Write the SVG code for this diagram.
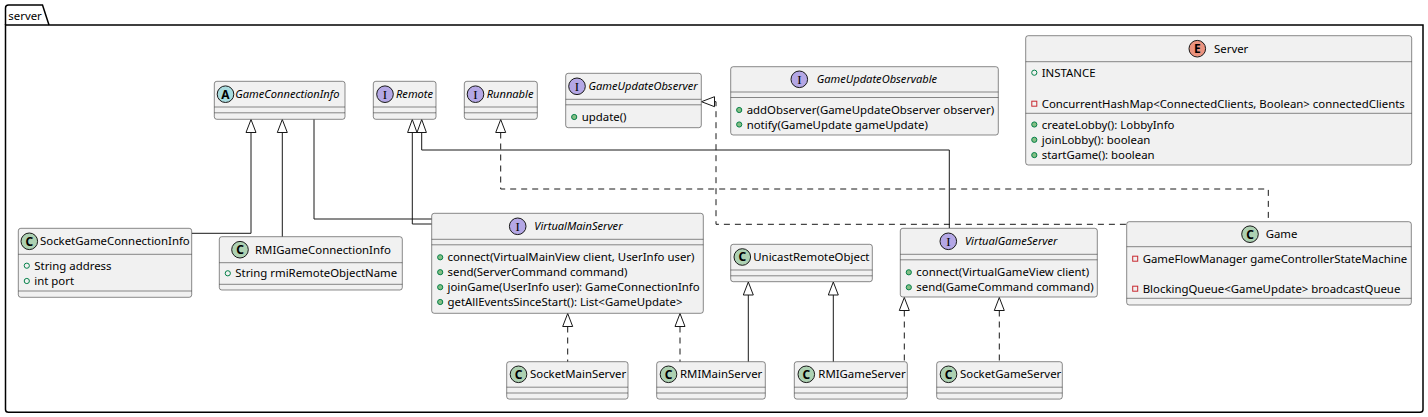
<svg xmlns="http://www.w3.org/2000/svg" width="1428" height="417" viewBox="0 0 1428 417">
<style>
.bx{fill:#F1F1F1;stroke:#181818;stroke-width:0.5}
.sep{stroke:#181818;stroke-width:0.5}
.t{font-family:"Noto Sans","DejaVu Sans",sans-serif;font-size:11.4px;fill:#000}
.it{font-style:italic;font-size:11.1px}
.ic{stroke:#181818;stroke-width:1}
.cC{fill:#ADD1B2}.cA{fill:#A9DCDF}.cI{fill:#B4A7E5}.cE{fill:#EB937F}
.lt{font-family:"Noto Sans",sans-serif;font-size:12px;font-weight:bold;fill:#000;text-anchor:middle}
.li{font-family:"Liberation Serif",serif;font-size:13px;fill:#000;text-anchor:middle}
.pm{fill:#84BE84;stroke:#038048;stroke-width:1}
.pf{fill:none;stroke:#038048;stroke-width:1}
.pr{fill:none;stroke:#C82930;stroke-width:1}
.ln{fill:none;stroke:#181818;stroke-width:1}
.dl{fill:none;stroke:#181818;stroke-width:1;stroke-dasharray:6,5}
.ar{fill:#FFFFFF;stroke:#181818;stroke-width:1}
</style>

<g id="pkg-server">
<path d="M5.5 25 L5.5 8 Q5.5 5 8.5 5 L42.5 5 L49 25" fill="none" stroke="#000" stroke-width="1.5"/>
<path d="M5.5 25 L1423 25 L1423 409.5 Q1423 412.3 1420 412.3 L8.5 412.3 Q5.5 412.3 5.5 409.5 Z" fill="none" stroke="#000" stroke-width="1.5"/>
<text class="t" x="8.3" y="19.5">server</text>
</g>

<g id="connectors">
<path class="ln" d="M251 132.5 L251 233.3 L191.7 233.3"/>
<polygon class="ar" points="251,119.5 246,132.5 256,132.5"/>
<path class="ln" d="M282.3 132.5 L282.3 236.7"/>
<polygon class="ar" points="282.3,119.5 277.3,132.5 287.3,132.5"/>
<path class="ln" d="M314 119.3 L314 219 L431.7 219"/>
<path class="ln" d="M412.3 132.5 L412.3 224 L431.7 224"/>
<polygon class="ar" points="412.3,119.5 407.6,132.5 417,132.5"/>
<path class="ln" d="M421.7 132.5 L421.7 150 L949.3 150 L949.3 228.3"/>
<polygon class="ar" points="421.7,119.5 417,132.5 426.4,132.5"/>
<path class="dl" d="M500.7 132.5 L500.7 189 L1268.3 189 L1268.3 221.7"/>
<polygon class="ar" points="500.7,119.5 495.7,132.5 505.7,132.5"/>
<path class="dl" d="M714.5 101.7 L716 101.7 L716 224.3 L1126.7 224.3"/>
<polygon class="ar" points="701.5,101.7 714.5,96.7 714.5,106.7"/>
<path class="dl" d="M567.7 326.5 L567.7 361.7"/>
<polygon class="ar" points="567.7,313.5 562.7,326.5 572.7,326.5"/>
<path class="dl" d="M680 326.5 L680 361.7"/>
<polygon class="ar" points="680,313.5 675,326.5 685,326.5"/>
<path class="ln" d="M748.3 295 L748.3 361.7"/>
<polygon class="ar" points="748.3,282 743.3,295 753.3,295"/>
<path class="ln" d="M833.3 295 L833.3 361.7"/>
<polygon class="ar" points="833.3,282 828.3,295 838.3,295"/>
<path class="dl" d="M904.3 310.5 L904.3 361.7"/>
<polygon class="ar" points="904.3,297.5 899.3,310.5 909.3,310.5"/>
<path class="dl" d="M999.3 310.5 L999.3 361.7"/>
<polygon class="ar" points="999.3,297.5 994.3,310.5 1004.3,310.5"/>
</g>

<g id="GameConnectionInfo">
<rect class="bx" x="214.3" y="81.3" width="130.7" height="38" rx="2.5"/>
<line class="sep" x1="214.3" y1="107" x2="345" y2="107"/>
<line class="sep" x1="214.3" y1="112.8" x2="345" y2="112.8"/>
<circle class="ic cA" cx="225.5" cy="94.2" r="8.3"/>
<text class="lt" x="225.5" y="98.5">A</text>
<text class="t it" x="235.3" y="98.3">GameConnectionInfo</text>
</g>

<g id="Remote">
<rect class="bx" x="373.3" y="81.3" width="62.7" height="38" rx="2.5"/>
<line class="sep" x1="373.3" y1="107" x2="436" y2="107"/>
<line class="sep" x1="373.3" y1="112.8" x2="436" y2="112.8"/>
<circle class="ic cI" cx="385" cy="94.2" r="8.3"/>
<text class="li" x="385" y="98.8">I</text>
<text class="t it" x="396" y="98.3">Remote</text>
</g>

<g id="Runnable">
<rect class="bx" x="464.3" y="81.3" width="73" height="38" rx="2.5"/>
<line class="sep" x1="464.3" y1="107" x2="537.3" y2="107"/>
<line class="sep" x1="464.3" y1="112.8" x2="537.3" y2="112.8"/>
<circle class="ic cI" cx="475.5" cy="94.2" r="8.3"/>
<text class="li" x="475.5" y="98.8">I</text>
<text class="t it" x="486.7" y="98.3">Runnable</text>
</g>

<g id="GameUpdateObserver">
<rect class="bx" x="565.7" y="73.3" width="135.6" height="54.4" rx="2.5"/>
<line class="sep" x1="565.7" y1="99.3" x2="701.3" y2="99.3"/>
<line class="sep" x1="565.7" y1="104.8" x2="701.3" y2="104.8"/>
<circle class="ic cI" cx="577" cy="86.3" r="8.3"/>
<text class="li" x="577" y="90.9">I</text>
<text class="t it" x="588.5" y="90.4">GameUpdateObserver</text>
<circle class="pm" cx="574.2" cy="117" r="2.6"/>
<text class="t" x="581.7" y="121">update()</text>
</g>

<g id="GameUpdateObservable">
<rect class="bx" x="730.7" y="66.7" width="267.6" height="68.3" rx="2.5"/>
<line class="sep" x1="730.7" y1="92" x2="998.3" y2="92"/>
<line class="sep" x1="730.7" y1="97.5" x2="998.3" y2="97.5"/>
<circle class="ic cI" cx="799.3" cy="79.3" r="8.3"/>
<text class="li" x="799.3" y="83.9">I</text>
<text class="t it" x="816.7" y="83.4">GameUpdateObservable</text>
<circle class="pm" cx="739.2" cy="110" r="2.6"/>
<text class="t" x="746.7" y="114">addObserver(GameUpdateObserver observer)</text>
<circle class="pm" cx="739.2" cy="124.5" r="2.6"/>
<text class="t" x="746.7" y="128.5">notify(GameUpdate gameUpdate)</text>
</g>

<g id="Server">
<rect class="bx" x="1025.7" y="35.7" width="386" height="129.3" rx="2.5"/>
<line class="sep" x1="1025.7" y1="61.7" x2="1411.7" y2="61.7"/>
<line class="sep" x1="1025.7" y1="113.3" x2="1411.7" y2="113.3"/>
<circle class="ic cE" cx="1197.3" cy="48.7" r="8.3"/>
<text class="lt" x="1197.3" y="53">E</text>
<text class="t" x="1214" y="52.8">Server</text>
<circle class="pf" cx="1034.3" cy="72.7" r="2.6"/>
<text class="t" x="1041.7" y="76.7">INSTANCE</text>
<rect class="pr" x="1031.8" y="101.2" width="5" height="5"/>
<text class="t" x="1041.7" y="107.7">ConcurrentHashMap&lt;ConnectedClients, Boolean&gt; connectedClients</text>
<circle class="pm" cx="1034.3" cy="124.5" r="2.6"/>
<text class="t" x="1041.7" y="128.5">createLobby(): LobbyInfo</text>
<circle class="pm" cx="1034.3" cy="139.8" r="2.6"/>
<text class="t" x="1041.7" y="143.8">joinLobby(): boolean</text>
<circle class="pm" cx="1034.3" cy="155.1" r="2.6"/>
<text class="t" x="1041.7" y="159.1">startGame(): boolean</text>
</g>

<g id="SocketGameConnectionInfo">
<rect class="bx" x="18.3" y="228.3" width="173.4" height="69" rx="2.5"/>
<line class="sep" x1="18.3" y1="254.3" x2="191.7" y2="254.3"/>
<line class="sep" x1="18.3" y1="291" x2="191.7" y2="291"/>
<circle class="ic cC" cx="29.3" cy="241.3" r="8.3"/>
<text class="lt" x="29.3" y="245.6">C</text>
<text class="t" x="40" y="245.4">SocketGameConnectionInfo</text>
<circle class="pf" cx="26.8" cy="265.7" r="2.6"/>
<text class="t" x="34.3" y="269.7">String address</text>
<circle class="pf" cx="26.8" cy="281" r="2.6"/>
<text class="t" x="34.3" y="285">int port</text>
</g>

<g id="RMIGameConnectionInfo">
<rect class="bx" x="219.3" y="236.7" width="183" height="53.3" rx="2.5"/>
<line class="sep" x1="219.3" y1="262.7" x2="402.3" y2="262.7"/>
<line class="sep" x1="219.3" y1="284.3" x2="402.3" y2="284.3"/>
<circle class="ic cC" cx="240" cy="249.7" r="8.3"/>
<text class="lt" x="240" y="254">C</text>
<text class="t" x="255" y="253.8">RMIGameConnectionInfo</text>
<circle class="pf" cx="227.8" cy="273.3" r="2.6"/>
<text class="t" x="235.3" y="277.3">String rmiRemoteObjectName</text>
</g>

<g id="VirtualMainServer">
<rect class="bx" x="431.7" y="213.3" width="271.6" height="100" rx="2.5"/>
<line class="sep" x1="431.7" y1="239.3" x2="703.3" y2="239.3"/>
<line class="sep" x1="431.7" y1="244.8" x2="703.3" y2="244.8"/>
<circle class="ic cI" cx="517.7" cy="226.3" r="8.3"/>
<text class="li" x="517.7" y="230.9">I</text>
<text class="t it" x="534.3" y="230.4">VirtualMainServer</text>
<circle class="pm" cx="440.2" cy="257.3" r="2.6"/>
<text class="t" x="447.5" y="261.3">connect(VirtualMainView client, UserInfo user)</text>
<circle class="pm" cx="440.2" cy="272.2" r="2.6"/>
<text class="t" x="447.5" y="276.2">send(ServerCommand command)</text>
<circle class="pm" cx="440.2" cy="287.2" r="2.6"/>
<text class="t" x="447.5" y="291.2">joinGame(UserInfo user): GameConnectionInfo</text>
<circle class="pm" cx="440.2" cy="302" r="2.6"/>
<text class="t" x="447.5" y="306">getAllEventsSinceStart(): List&lt;GameUpdate&gt;</text>
</g>

<g id="UnicastRemoteObject">
<rect class="bx" x="730.7" y="244.3" width="141.6" height="37.4" rx="2.5"/>
<line class="sep" x1="730.7" y1="270" x2="872.3" y2="270"/>
<line class="sep" x1="730.7" y1="275.8" x2="872.3" y2="275.8"/>
<circle class="ic cC" cx="742.3" cy="257" r="8.3"/>
<text class="lt" x="742.3" y="261.3">C</text>
<text class="t" x="753.3" y="261.1">UnicastRemoteObject</text>
</g>

<g id="VirtualGameServer">
<rect class="bx" x="900.3" y="228.3" width="197" height="68.7" rx="2.5"/>
<line class="sep" x1="900.3" y1="254.3" x2="1097.3" y2="254.3"/>
<line class="sep" x1="900.3" y1="259.8" x2="1097.3" y2="259.8"/>
<circle class="ic cI" cx="948.3" cy="241.3" r="8.3"/>
<text class="li" x="948.3" y="245.9">I</text>
<text class="t it" x="965" y="245.4">VirtualGameServer</text>
<circle class="pm" cx="908.8" cy="272.3" r="2.6"/>
<text class="t" x="916.3" y="276.3">connect(VirtualGameView client)</text>
<circle class="pm" cx="908.8" cy="287.3" r="2.6"/>
<text class="t" x="916.3" y="291.3">send(GameCommand command)</text>
</g>

<g id="Game">
<rect class="bx" x="1126.7" y="221.7" width="284.6" height="83.3" rx="2.5"/>
<line class="sep" x1="1126.7" y1="246.7" x2="1411.3" y2="246.7"/>
<line class="sep" x1="1126.7" y1="298.3" x2="1411.3" y2="298.3"/>
<circle class="ic cC" cx="1250" cy="234.2" r="8.3"/>
<text class="lt" x="1250" y="238.5">C</text>
<text class="t" x="1265.7" y="238.3">Game</text>
<rect class="pr" x="1132.7" y="256.2" width="5" height="5"/>
<text class="t" x="1142.7" y="262.7">GameFlowManager gameControllerStateMachine</text>
<rect class="pr" x="1132.7" y="286.2" width="5" height="5"/>
<text class="t" x="1142.7" y="292.7">BlockingQueue&lt;GameUpdate&gt; broadcastQueue</text>
</g>

<g id="SocketMainServer">
<rect class="bx" x="506.7" y="361.7" width="121.3" height="37.4" rx="2.5"/>
<line class="sep" x1="506.7" y1="387.2" x2="628" y2="387.2"/>
<line class="sep" x1="506.7" y1="393" x2="628" y2="393"/>
<circle class="ic cC" cx="518.5" cy="374.3" r="8.3"/>
<text class="lt" x="518.5" y="378.6">C</text>
<text class="t" x="530" y="378.4">SocketMainServer</text>
</g>

<g id="RMIMainServer">
<rect class="bx" x="656.7" y="361.7" width="108.6" height="37.4" rx="2.5"/>
<line class="sep" x1="656.7" y1="387.2" x2="765.3" y2="387.2"/>
<line class="sep" x1="656.7" y1="393" x2="765.3" y2="393"/>
<circle class="ic cC" cx="668.5" cy="374.3" r="8.3"/>
<text class="lt" x="668.5" y="378.6">C</text>
<text class="t" x="680" y="378.4">RMIMainServer</text>
</g>

<g id="RMIGameServer">
<rect class="bx" x="794.3" y="361.7" width="113" height="37.4" rx="2.5"/>
<line class="sep" x1="794.3" y1="387.2" x2="907.3" y2="387.2"/>
<line class="sep" x1="794.3" y1="393" x2="907.3" y2="393"/>
<circle class="ic cC" cx="806.3" cy="374.3" r="8.3"/>
<text class="lt" x="806.3" y="378.6">C</text>
<text class="t" x="818.3" y="378.4">RMIGameServer</text>
</g>

<g id="SocketGameServer">
<rect class="bx" x="936.7" y="361.7" width="125.6" height="37.4" rx="2.5"/>
<line class="sep" x1="936.7" y1="387.2" x2="1062.3" y2="387.2"/>
<line class="sep" x1="936.7" y1="393" x2="1062.3" y2="393"/>
<circle class="ic cC" cx="948.5" cy="374.3" r="8.3"/>
<text class="lt" x="948.5" y="378.6">C</text>
<text class="t" x="960" y="378.4">SocketGameServer</text>
</g>
</svg>
